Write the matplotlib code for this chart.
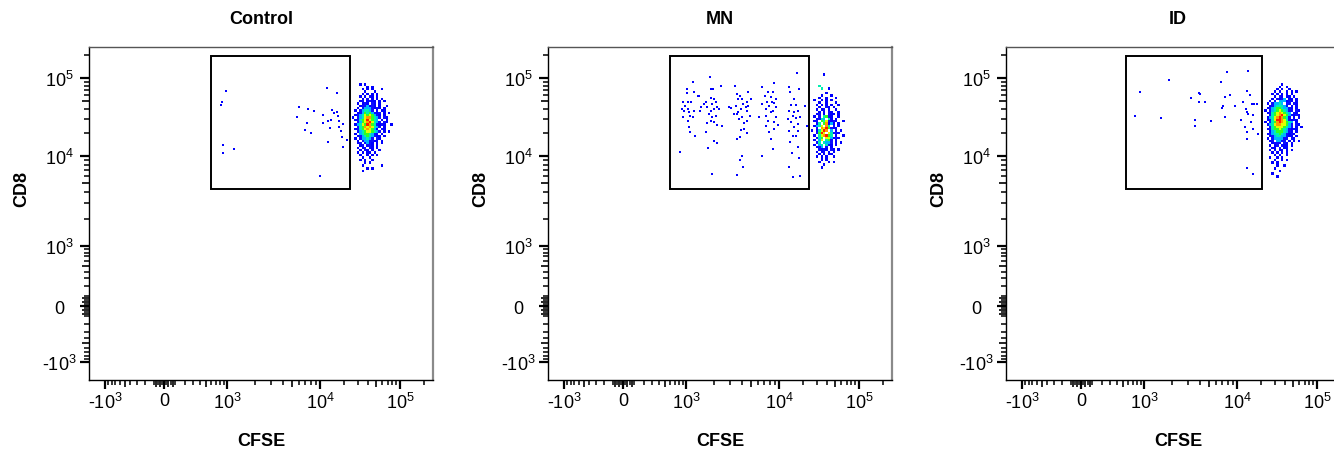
import numpy as np
import matplotlib.pyplot as plt
from matplotlib.colors import ListedColormap, BoundaryNorm
from matplotlib.patches import Rectangle

plt.rcParams['font.family'] = ['Liberation Sans', 'DejaVu Sans']
plt.rcParams['mathtext.fontset'] = 'custom'
plt.rcParams['mathtext.rm'] = 'Liberation Sans'

# ---------------- data ----------------
titles = ['Control', 'MN', 'ID']

# gate (CFSE low/high, CD8 low/high)
gates = [(600, 23700, 4300, 191000),
         (600, 23700, 4300, 191000),
         (553, 20500, 4300, 191000)]

# sparse events inside the gate, log10 units
ctrl_log_cfse = [2.986, 2.926, 2.912, 2.948, 2.948, 3.075, 4.084, 4.209, 3.771, 3.756,
                 3.874, 3.935, 3.857, 3.842, 3.903, 4.041, 4.034, 4.104, 4.138, 4.150,
                 4.175, 4.209, 4.241, 4.221, 4.125, 4.234, 4.291, 4.259, 4.275, 4.341,
                 4.104, 4.291, 4.000]
ctrl_log_cd8 = [4.837, 4.696, 4.658, 4.141, 4.038, 4.090, 4.872, 4.808, 4.624, 4.504,
                4.603, 4.573, 4.423, 4.337, 4.291, 4.526, 4.423, 4.453, 4.458, 4.590,
                4.547, 4.560, 4.449, 4.517, 4.359, 4.376, 4.406, 4.324, 4.240, 4.209,
                4.176, 4.119, 3.778]

mn_log_cfse = [
    # division peak 1
    3.072, 3.011, 3.011, 2.954, 3.018, 3.054, 2.985, 2.940, 3.018, 2.976, 3.036,
    3.090, 2.954, 3.047, 3.072, 3.018, 3.090, 3.036, 3.047, 3.097, 2.920, 3.133,
    # peak 2
    3.258, 3.215, 3.197, 3.269, 3.297, 3.276, 3.305, 3.323, 3.287, 3.233, 3.341,
    3.305, 3.269, 3.358, 3.251, 3.287, 3.323, 3.269, 3.305, 3.233, 3.394, 3.341,
    3.376, 3.143, 3.154, 3.215, 3.305, 3.341, 3.240, 3.287, 3.161,
    # peak 3
    3.527, 3.548, 3.584, 3.670, 3.609, 3.563, 3.699, 3.656, 3.620, 3.538, 3.645,
    3.670, 3.591, 3.563, 3.484, 3.466, 3.656, 3.556, 3.609, 3.573, 3.663, 3.627,
    3.591, 3.627, 3.656, 3.556, 3.581, 3.609, 3.584, 3.613, 3.556, 3.520, 3.692,
    # peak 4
    3.824, 3.943, 3.885, 3.932, 3.849, 3.914, 3.968, 3.871, 3.921, 3.950, 3.824,
    3.896, 3.968, 3.860, 3.932, 3.914, 3.789, 3.860, 3.968, 3.885, 3.943, 3.860,
    3.986, 3.950, 3.896, 3.914, 3.814, 3.932,
    # peak 5
    4.129, 4.225, 4.142, 4.254, 4.183, 4.150, 4.213, 4.129, 4.192, 4.242, 4.171,
    4.108, 4.213, 4.267, 4.150, 4.242, 4.192, 4.129, 4.233, 4.171, 4.213, 4.142,
    4.233, 4.158, 4.254, 4.121, 4.267, 4.171, 4.325, 4.350]
mn_log_cd8 = [
    4.944, 4.859, 4.803, 4.697, 4.688, 4.688, 4.637, 4.603, 4.603, 4.581, 4.560,
    4.816, 4.496, 4.517, 4.496, 4.453, 4.581, 4.368, 4.303, 4.261, 4.047, 4.774,
    5.009, 4.688, 4.667, 4.859, 4.859, 4.739, 4.731, 4.688, 4.667, 4.624, 4.624,
    4.603, 4.581, 4.603, 4.538, 4.496, 4.517, 4.453, 4.432, 4.423, 4.389, 4.397,
    4.902, 4.774, 4.581, 4.303, 4.197, 4.167, 4.098, 3.800, 4.624,
    4.893, 4.795, 4.774, 4.825, 4.731, 4.731, 4.731, 4.688, 4.667, 4.645, 4.624,
    4.645, 4.603, 4.568, 4.611, 4.624, 4.581, 4.538, 4.496, 4.474, 4.453, 4.423,
    4.338, 4.346, 4.295, 4.218, 4.239, 3.996, 3.959, 3.874, 3.789, 4.538, 4.517,
    4.880, 4.932, 4.816, 4.816, 4.774, 4.752, 4.731, 4.688, 4.688, 4.679, 4.667,
    4.645, 4.624, 4.603, 4.581, 4.560, 4.496, 4.517, 4.496, 4.453, 4.432, 4.389,
    4.397, 4.346, 4.312, 4.218, 4.004, 4.090,
    4.880, 5.064, 4.816, 4.859, 4.731, 4.654, 4.654, 4.581, 4.560, 4.581, 4.517,
    4.474, 4.483, 4.496, 4.432, 4.410, 4.368, 4.325, 4.325, 4.261, 4.252, 4.175,
    4.111, 4.038, 3.974, 3.874, 3.781, 3.770, 4.645, 4.389]

id_log_cfse = [2.944, 2.874, 3.183, 3.269, 3.513, 3.595, 3.610, 3.595, 3.656, 3.556,
               3.556, 3.728, 3.825, 3.896, 4.141, 3.925, 3.871, 3.839, 3.853, 3.871,
               3.978, 4.046, 4.121, 4.163, 4.121, 4.141, 4.079, 4.113, 4.184, 4.213,
               4.246, 4.204, 4.171, 4.100, 4.196, 4.129, 4.121, 4.259, 4.121, 4.196]
id_log_cd8 = [4.817, 4.517, 4.483, 4.978, 4.744, 4.812, 4.800, 4.696, 4.696, 4.466,
              4.380, 4.453, 4.945, 5.080, 5.094, 4.782, 4.752, 4.615, 4.645, 4.500,
              4.637, 4.466, 4.829, 4.782, 4.560, 4.538, 4.688, 4.603, 4.667, 4.667,
              4.667, 4.526, 4.440, 4.368, 4.346, 4.304, 4.218, 4.282, 3.863, 3.800]

# undivided population: density level per 0.03-decade bin (rows top -> bottom)
ctrl_bins_origin = (4.40, 4.93)
ctrl_density = [
    "...1.1...........",
    "......1.1........",
    "....1.1.1...1....",
    ".....1...1.......",
    "....1.1.1.1......",
    "...1.1.21.1......",
    "....1.2.1.1.1....",
    "...12.1211.1.1...",
    "..1.121.21.1.....",
    "...1223121.1..1..",
    "..1.23332121.1...",
    ".1.234432.1.11...",
    "..1235453212.1.1.",
    ".12346565321.1...",
    "1.2346775432.21..",
    ".1245686543.1.1..",
    "..2356786432.21..",
    ".1346587542121..1",
    "..2457676432.1...",
    ".1245676531.21...",
    "..2345665432.1.1.",
    ".1.34554321.1....",
    "..1234543211.1...",
    ".1.233432.21.....",
    "..1.2332211.1....",
    "..12.2321.1.1....",
    "...12.221.1......",
    "..1.12.21.1......",
    "...1.21.1..1.....",
    "..1.1.11.1.......",
    "...1..1.1.1......",
    "....1..1.........",
    "...1.1..1........",
    ".....1.1.........",
    "....1.......1....",
    "......1.1........",
    "....1............",
]

mn_bins_origin = (4.40, 5.06)
mn_density = [
    ".....1........",
    "..............",
    "..............",
    "..............",
    "..............",
    "...4..........",
    "....4..1......",
    "..............",
    "......1.......",
    "....1...1.....",
    "...1..1...1...",
    ".1..1.1.1.....",
    "...1..1...1...",
    "..1.1.1.1..1..",
    "...1..21.1....",
    "..1.12.1..1...",
    "...1.1.21..1..",
    "..12.1.211.1..",
    ".1.2.4521..1..",
    "..1243.41.1...",
    ".12.5462121..1",
    "..24.57131.1..",
    ".1346.74.2.1..",
    "..2.7685211...",
    "1.14687.3.1.1.",
    "..2586.64221..",
    ".1.467854.1..1",
    "..245.663121..",
    ".1.36.452.1...",
    "..24.4332.1.1.",
    ".1.34.421.1...",
    "..123.2.1.....",
    "...2121.21.1..",
    "..1.12.1.1....",
    "...1.1.11.....",
    "..1.1.1..1....",
    "....1.1.......",
    "...1...1.1....",
    ".....1........",
    "....1.........",
]

id_bins_origin = (4.34, 4.93)
id_density = [
    ".......1........",
    "......1..1......",
    ".....1.1..1.....",
    "....1.1..1.1.1..",
    "...1.1.1.1.1....",
    "....1.21.11.1...",
    "...1.2123.11.1..",
    "..1.2.333121.1..",
    ".1.23343.22.21..",
    "..12344432.1.1..",
    ".12345543321.1..",
    "1.2345654322.21.",
    ".1245676543.21..",
    "..2456786532121.",
    ".1346787542.1.1.",
    ".1246887642121..",
    "1.2457876543.1..",
    ".13467766532.21.",
    "..2456665432.1.1",
    ".1245565432121..",
    "..1345554321.1..",
    ".123445432121...",
    "..1234433211.1..",
    ".1.2333322.21...",
    "..12.3322.1.1.1.",
    "...1222.21.1....",
    "..1.12.211.1....",
    "...11.2.11......",
    "..1.1.11.1.1....",
    "...1.1.1.1......",
    "....1.1..1......",
    "..1..1.1........",
    "....1..1.1......",
    "...1.1..........",
    ".....1..1.......",
    "....1...........",
    "......1.........",
    "...1............",
    ".....1..........",
]
BIN = 0.03

events = [(ctrl_log_cfse, ctrl_log_cd8), (mn_log_cfse, mn_log_cd8), (id_log_cfse, id_log_cd8)]
densities = [(ctrl_density, ctrl_bins_origin), (mn_density, mn_bins_origin), (id_density, id_bins_origin)]

major_ticks = [-1e3, 0, 1e3, 1e4, 1e5]
major_labels = ['-$\\mathregular{10^{3}}$', '0', '$\\mathregular{10^{3}}$',
                '$\\mathregular{10^{4}}$', '$\\mathregular{10^{5}}$']
medium_ticks = [-500, 500, 5e3, 5e4, -80, -40, 40, 80]
minor_ticks = ([-v for v in range(100, 1000, 100) if v != 500] + [-60, -20]
               + [20, 60] + [v for v in range(100, 1000, 100) if v != 500]
               + [v for v in range(2000, 10000, 1000) if v != 5000]
               + [v for v in range(20000, 100000, 10000) if v != 50000] + [2e5])

# ---------------- biexponential-like axis ----------------
C = 300.0
KNOTS = np.array([-1e3, 0, 1e3, 1e4, 1e5])
X_KNOT_PX = np.array([16.0, 75.0, 138.0, 231.0, 311.0])   # from left edge of plot
Y_KNOT_PX = np.array([18.0, 74.0, 134.0, 224.0, 302.0])   # from bottom edge of plot
AX_W, AX_H = 344.0, 333.0


def biex(kp):
    kt = np.arcsinh(KNOTS / C)
    s0 = (kp[1] - kp[0]) / (kt[1] - kt[0])
    s1 = (kp[-1] - kp[-2]) / (kt[-1] - kt[-2])

    def fwd(v):
        t = np.arcsinh(np.asarray(v, dtype=float) / C)
        p = np.interp(t, kt, kp)
        p = np.where(t < kt[0], kp[0] + (t - kt[0]) * s0, p)
        p = np.where(t > kt[-1], kp[-1] + (t - kt[-1]) * s1, p)
        return p

    def inv(p):
        p = np.asarray(p, dtype=float)
        t = np.interp(p, kp, kt)
        t = np.where(p < kp[0], kt[0] + (p - kp[0]) / s0, t)
        t = np.where(p > kp[-1], kt[-1] + (p - kp[-1]) / s1, t)
        return C * np.sinh(t)
    return fwd, inv


xf, xi = biex(X_KNOT_PX)
yf, yi = biex(Y_KNOT_PX)

lvl_colors = ['#0000ff', '#0c0cff', '#00b4ff', '#00f0b0', '#30ff20', '#e0ff00', '#ff9a00', '#ff1a00']
cmap = ListedColormap(lvl_colors)
norm = BoundaryNorm(np.arange(0.5, 9.5, 1), cmap.N)

W, H = 1334, 452
fig = plt.figure(figsize=(W / 100, H / 100), dpi=100)
lefts = [89, 548, 1006]
bottom_px = 381


def style_axis(axis, tick_len):
    axis.set_major_locator(plt.FixedLocator(major_ticks + medium_ticks))
    axis.set_major_formatter(plt.FixedFormatter(major_labels + [''] * len(medium_ticks)))
    axis.set_minor_locator(plt.FixedLocator(minor_ticks))
    ticks = axis.get_major_ticks(len(major_ticks) + len(medium_ticks))
    for i, tk in enumerate(ticks):
        if i >= len(major_ticks):
            tk.tick1line.set_markersize(tick_len)
            tk.tick1line.set_markeredgewidth(1.2)
    return ticks


for k in range(3):
    ax = fig.add_axes([lefts[k] / W, (H - bottom_px) / H, AX_W / W, AX_H / H])
    ax.set_xscale('function', functions=(xf, xi))
    ax.set_yscale('function', functions=(yf, yi))
    ax.set_xlim(float(xi(0.0)), float(xi(AX_W)))
    ax.set_ylim(float(yi(0.0)), float(yi(AX_H)))

    lx, ly = events[k]
    ax.scatter(10 ** np.array(lx), 10 ** np.array(ly), s=2.6, marker='s', c='#0000ff',
               linewidths=0, zorder=2)

    rows, (x0, ytop) = densities[k]
    ncol = max(len(r) for r in rows)
    grid = np.array([[0 if ch == '.' else int(ch) for ch in r.ljust(ncol, '.')] for r in rows])
    xe = 10 ** (x0 + BIN * np.arange(ncol + 1))
    ye = 10 ** (ytop - BIN * np.arange(len(rows) + 1))
    ax.pcolormesh(xe, ye, np.ma.masked_equal(grid, 0), cmap=cmap, norm=norm, zorder=3)

    gx0, gx1, gy0, gy1 = gates[k]
    ax.add_patch(Rectangle((gx0, gy0), gx1 - gx0, gy1 - gy0, fill=False,
                           edgecolor='black', linewidth=1.4, zorder=4))

    ax.tick_params(which='major', direction='out', length=6.5, width=1.6, labelsize=13, pad=2)
    ax.tick_params(axis='y', which='major', pad=15)
    ax.tick_params(which='minor', direction='out', length=3.6, width=1.1)
    style_axis(ax.xaxis, 5.0)
    yticks = style_axis(ax.yaxis, 5.0)
    for tk in yticks:
        tk.label1.set_horizontalalignment('center')

    for side in ['left', 'bottom']:
        ax.spines[side].set_color('black')
        ax.spines[side].set_linewidth(1.0)
    ax.spines['top'].set_color('#555555')
    ax.spines['top'].set_linewidth(1.0)
    ax.spines['right'].set_color('#8a8a8a')
    ax.spines['right'].set_linewidth(1.6)

    ax.set_title(titles[k], fontsize=13, fontweight='bold', pad=17)
    ax.set_xlabel('CFSE', fontsize=13, fontweight='bold')
    ax.set_ylabel('CD8', fontsize=13, fontweight='bold')
    ax.xaxis.set_label_coords(0.5, -0.155)
    ax.yaxis.set_label_coords(-0.17, 0.577)

fig.savefig('out.png', dpi=100)
